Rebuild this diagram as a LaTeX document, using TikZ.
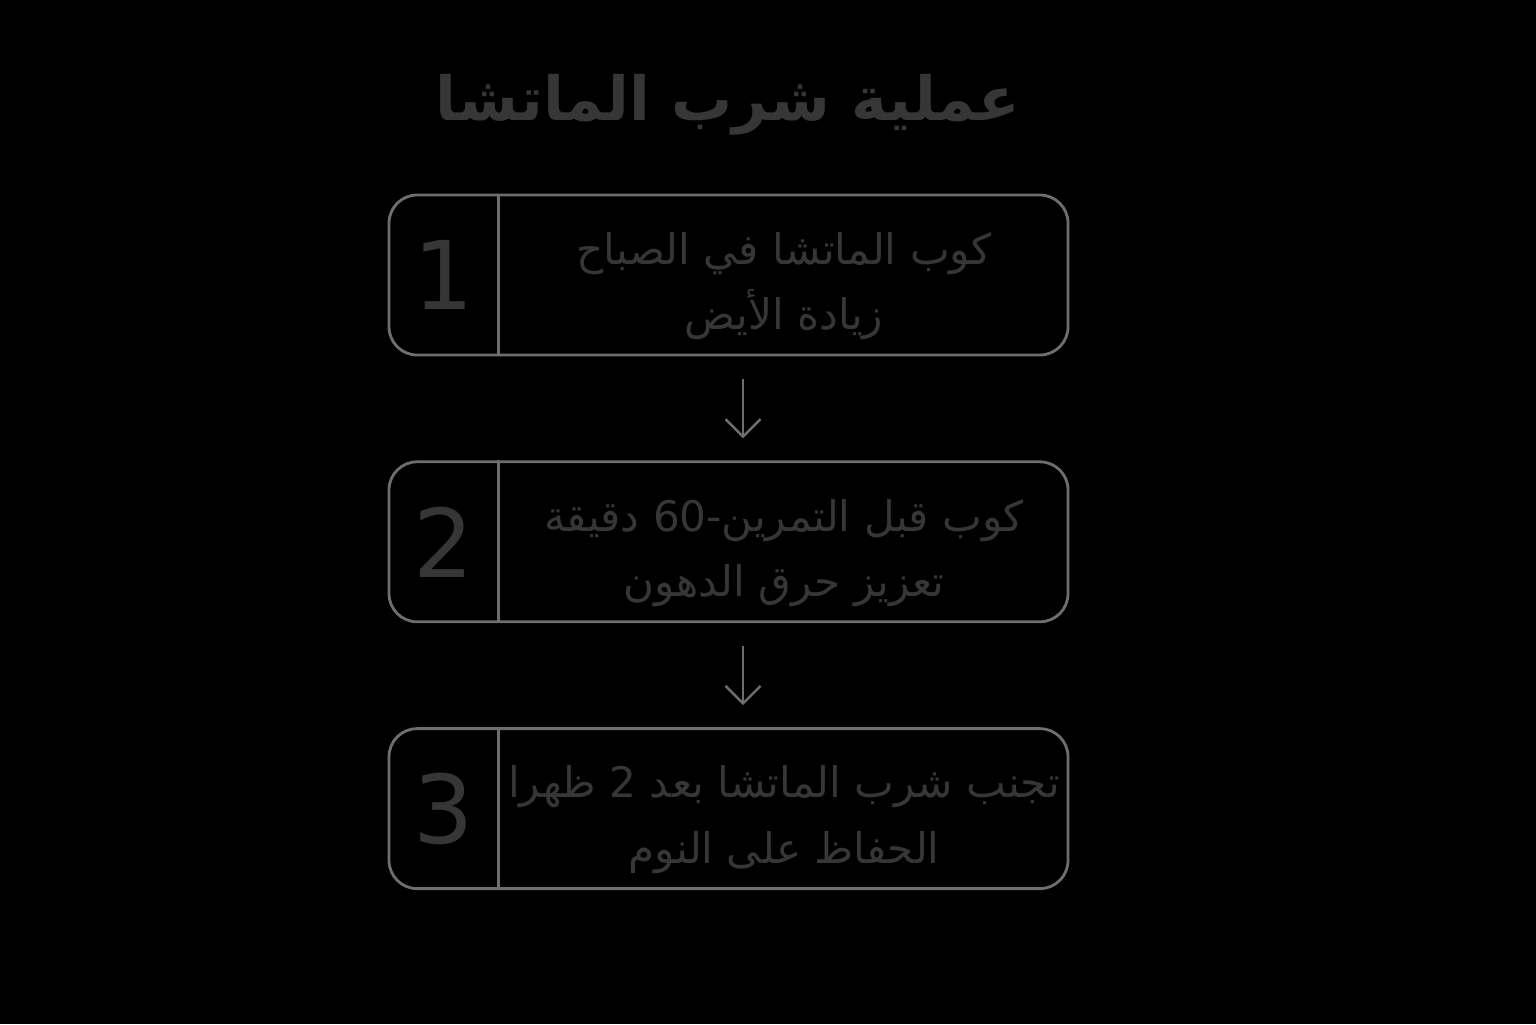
\documentclass[tikz,border=0pt]{standalone}
\usepackage{fontspec}
\usetikzlibrary{positioning, arrows.meta}
\setmainfont{DejaVu Sans}
\newfontfamily\arabicfont[Script=Arabic]{DejaVu Sans}
\TeXXeTstate=1
\definecolor{inkgray}{HTML}{363636}
\definecolor{edgegray}{HTML}{6E6E6E}
\tikzstyle{stepbox} = [rectangle, rounded corners=8pt, minimum width=6.79cm, minimum height=1.6cm, draw=edgegray, line width=0.8pt]
\tikzstyle{num} = [text=inkgray, font=\fontsize{27}{30}\selectfont]
\tikzstyle{desc} = [text=inkgray, align=center, font=\arabicfont\fontsize{12}{18.5}\selectfont]
\tikzstyle{aro} = [-{Straight Barb[length=5pt,width=10pt]}, draw=edgegray, line width=0.7pt, shorten >=0.22cm, shorten <=0.23cm]

\begin{document}
\begin{tikzpicture}[node distance=1.04cm]

  \fill[black] (0,0) rectangle (15.36,10.24);

  \node (title) [text=inkgray, font=\arabicfont\bfseries\fontsize{17.3}{21}\selectfont] at (7.28,9.19) {\beginR عملية شرب الماتشا\endR};

  \node (s1) [stepbox] at (7.285,7.49) {};
  \node (s2) [stepbox, below=of s1] {};
  \node (s3) [stepbox, below=of s2] {};

  \node (n1) [num] at ([xshift=0.56cm]s1.west) {1};
  \node (n2) [num] at ([xshift=0.56cm]s2.west) {2};
  \node (n3) [num] at ([xshift=0.56cm]s3.west) {3};

  \draw [edgegray, line width=0.8pt] ([xshift=1.11cm]s1.north west) -- ([xshift=1.11cm]s1.south west);
  \draw [edgegray, line width=0.8pt] ([xshift=1.11cm]s2.north west) -- ([xshift=1.11cm]s2.south west);
  \draw [edgegray, line width=0.8pt] ([xshift=1.11cm]s3.north west) -- ([xshift=1.11cm]s3.south west);

  \node (d1) [desc] at ([xshift=0.555cm,yshift=-0.11cm]s1.center) {\beginR كوب الماتشا في الصباح\endR\\ \beginR زيادة الأيض\endR};
  \node (d2) [desc] at ([xshift=0.555cm,yshift=-0.11cm]s2.center) {\beginR كوب قبل التمرين-\beginL60\endL{} دقيقة\endR\\ \beginR تعزيز حرق الدهون\endR};
  \node (d3) [desc] at ([xshift=0.555cm,yshift=-0.11cm]s3.center) {\beginR تجنب شرب الماتشا بعد \beginL2\endL{} ظهرا\endR\\ \beginR الحفاظ على النوم\endR};

  \draw [aro] ([xshift=0.145cm]s1.south) -- ([xshift=0.145cm]s2.north);
  \draw [aro] ([xshift=0.145cm]s2.south) -- ([xshift=0.145cm]s3.north);

\end{tikzpicture}
\end{document}
